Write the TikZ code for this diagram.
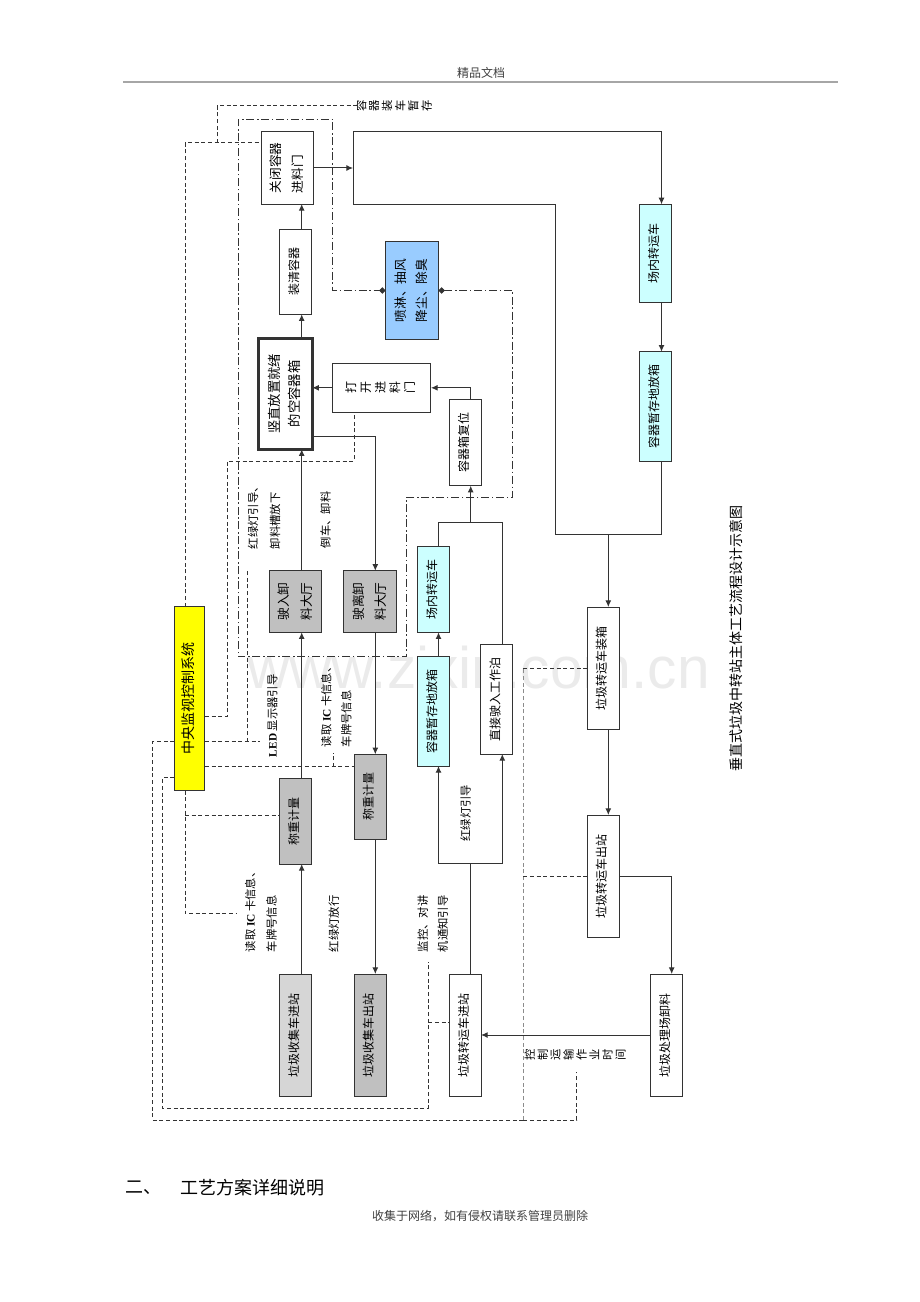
\documentclass[tikz,border=0pt]{standalone}
\usepackage{fontspec}
\setmainfont{Noto Sans CJK SC}
\newfontfamily\latinserif{Liberation Serif}
\newfontfamily\wmfont{Liberation Sans}
\usetikzlibrary{arrows.meta}
\definecolor{cyanbox}{HTML}{CCFFFF}
\definecolor{bluebox}{HTML}{99CCFF}
\definecolor{graybox}{HTML}{C0C0C0}
\definecolor{lgraybox}{HTML}{D6D6D6}
\definecolor{yellowbox}{HTML}{FFFF00}
\definecolor{linec}{HTML}{333333}
\newcommand{\rt}[4][l]{\rotatebox{90}{\fontsize{#2}{#3}\selectfont\begin{tabular}{@{}#1@{}}#4\end{tabular}}}
\newcommand{\latb}[1]{{\latinserif\bfseries #1}}
\tikzset{
  box/.style={draw=linec, line width=0.75pt, fill=white, inner sep=0pt, outer sep=0pt},
  cyanb/.style={box, fill=cyanbox},
  grayb/.style={box, fill=graybox},
  lab/.style={inner sep=0pt, outer sep=0pt},
  ln/.style={draw=linec, line width=0.75pt},
  arr/.style={ln, -{Latex[length=5pt,width=4.5pt]}},
  dsh/.style={draw=linec, line width=0.75pt, dash pattern=on 3pt off 2pt},
  ddot/.style={draw=linec, line width=0.75pt, dash pattern=on 6pt off 2pt on 1.2pt off 2pt},
  dtip/.style={{Diamond[length=5pt,width=5pt]}-{Diamond[length=5pt,width=5pt]}},
}
\begin{document}
\begin{tikzpicture}[x=0.75pt,y=-0.75pt]
\useasboundingbox (0,0) rectangle (920,1302);
% watermark
\node[lab, anchor=base west, text=black!8] (wm) at (247,688) {\wmfont\fontsize{44}{44}\selectfont www.zixin.com.cn};
% header / footer
\node[lab, text=black!75] (hdr) at (481,73) {\fontsize{9}{10}\selectfont 精品文档};
\coordinate (hl1) at (123,82); \coordinate (hl2) at (838,82);
\draw[black!35, line width=1pt] (hl1) -- (hl2);
\node[lab, anchor=west] (secnum) at (125,1188) {\fontsize{13.5}{14}\selectfont 二、};
\node[lab, anchor=west] (sectitle) at (180,1188) {\fontsize{13.5}{14}\selectfont 工艺方案详细说明};
\node[lab, text=black!75] (ftr) at (480,1216) {\fontsize{9}{10}\selectfont 收集于网络，如有侵权请联系管理员删除};
% boxes
\node[box, minimum width=39pt, minimum height=54pt] (closeDoor) at (287,168) {\rt{9.5}{17}{关闭容器\\进料门}};
\node[box, minimum width=24.3pt, minimum height=63.75pt] (cleanC) at (295.5,271.8) {\rt{9}{11}{装清容器}};
\node[box, line width=2pt, minimum width=40.5pt, minimum height=83.25pt] (ready) at (285.3,393.8) {\rt[c]{10}{15}{竖直放置就绪\\的空容器箱}};
\node[box, fill=bluebox, minimum width=39.45pt, minimum height=73.2pt] (spray) at (412,290.5) {\rt{9.5}{16}{喷淋、抽风\\降尘、除臭}};
\node[box, minimum width=73.7pt, minimum height=36.75pt] (openDoor) at (381.85,387.8) {\rt{9}{11}{打\\开\\进\\料\\门}};
\node[box, minimum width=23.8pt, minimum height=64.3pt] (reset) at (465.15,442.85) {\rt{9}{11}{容器箱复位}};
\node[grayb, minimum width=39.3pt, minimum height=46.2pt] (enterHall) at (295.5,601.5) {\rt{9.5}{17}{驶入卸\\料大厅}};
\node[grayb, minimum width=39.75pt, minimum height=46.2pt] (leaveHall) at (369.8,601.5) {\rt{9.5}{17}{驶离卸\\料大厅}};
\node[cyanb, minimum width=23.7pt, minimum height=64.2pt] (shuttle2) at (433.5,589.5) {\rt{9}{11}{场内转运车}};
\node[cyanb, minimum width=23.7pt, minimum height=82pt] (store2) at (433.5,711.35) {\rt{9}{11}{容器暂存地放箱}};
\node[box, minimum width=24pt, minimum height=82.3pt] (direct) at (496.7,699.15) {\rt{9}{11}{直接驶入工作泊}};
\node[box, fill=yellowbox, minimum width=23pt, minimum height=138pt] (ctrl) at (189.65,698.7) {\rt{10.5}{12}{中央监视控制系统}};
\node[grayb, minimum width=24.3pt, minimum height=64.3pt] (weigh1) at (295.5,821.15) {\rt{9}{11}{称重计量}};
\node[grayb, minimum width=24pt, minimum height=63.75pt] (weigh2) at (370,796.8) {\rt{9}{11}{称重计量}};
\node[box, fill=lgraybox, minimum width=24.3pt, minimum height=91.5pt] (colIn) at (295.5,1035) {\rt{9}{11}{垃圾收集车进站}};
\node[grayb, minimum width=24pt, minimum height=91.5pt] (colOut) at (370,1035) {\rt{9}{11}{垃圾收集车出站}};
\node[box, minimum width=23.8pt, minimum height=91.5pt] (trIn) at (465.15,1035) {\rt{9}{11}{垃圾转运车进站}};
\node[cyanb, minimum width=24pt, minimum height=73.5pt] (shuttle1) at (655.3,253.3) {\rt{9}{11}{场内转运车}};
\node[cyanb, minimum width=24.3pt, minimum height=82pt] (store1) at (655.5,406.35) {\rt{9}{11}{容器暂存地放箱}};
\node[box, minimum width=24pt, minimum height=91.7pt] (load) at (603,668.15) {\rt{9}{11}{垃圾转运车装箱}};
\node[box, minimum width=24pt, minimum height=91.7pt] (trOut) at (603,876.15) {\rt{9}{11}{垃圾转运车出站}};
\node[box, minimum width=23.5pt, minimum height=91.5pt] (dump) at (666.35,1035) {\rt{9}{11}{垃圾处理场卸料}};
% labels
\node[lab, anchor=south] (lblA) at (264,549) {\rt{8.5}{16.5}{红绿灯引导、\\卸料槽放下}};
\node[lab, anchor=south] (lblB) at (326.7,548) {\rt{8.5}{12}{倒车、卸料}};
\node[lab, anchor=south] (lblC) at (273.3,757) {\rt{8.5}{12}{\latb{LED} 显示器引导}};
\node[lab, anchor=south] (lblD) at (336.7,747) {\rt{8.5}{15}{读取 \latb{IC} 卡信息、\\车牌号信息}};
\node[lab, anchor=south] (lblE) at (261,952) {\rt{8.5}{16}{读取 \latb{IC} 卡信息、\\车牌号信息}};
\node[lab, anchor=south] (lblF) at (335,952) {\rt{8.5}{12}{红绿灯放行}};
\node[lab, anchor=south] (lblG) at (433,952) {\rt{8.5}{15}{监控、对讲\\机通知引导}};
\node[lab] (lblH) at (466.7,813) {\rt{8.5}{12}{红绿灯引导}};
\node[lab, anchor=west] (capStore) at (356,106) {\rt{8.5}{9}{容\\器\\装\\车\\暂\\存}};
\node[lab] (ctrlTime) at (576.5,1055) {\rt{8.5}{9}{控\\制\\运\\输\\作\\业\\时\\间}};
\node[lab] (title) at (738,638.5) {\rt{10.5}{12}{垂直式垃圾中转站主体工艺流程设计示意图}};
% spine coordinates
\coordinate (sA) at (301.7,0);
\coordinate (sB) at (375.3,0);
\coordinate (sC) at (438.5,0);
\coordinate (sD) at (470.7,0);
\coordinate (sE) at (502.3,0);
\coordinate (sF) at (608.3,0);
\coordinate (sG) at (661.5,0);
\coordinate (sH) at (671.7,0);
\coordinate (sI) at (555,0);
\coordinate (hR) at (0,436.7);
\coordinate (hJ) at (0,522.5);
\coordinate (hK) at (0,863.3);
\coordinate (hM) at (0,534);
\coordinate (bT) at (353,132);
\coordinate (bB) at (353,204);
% main flow
\draw[arr] (colIn.north -| sA) -- (weigh1.south -| sA);
\draw[arr] (weigh1.north -| sA) -- (enterHall.south -| sA);
\draw[arr] (enterHall.north -| sA) -- (ready.south -| sA);
\draw[arr] (ready.north -| sA) -- (cleanC.south -| sA);
\draw[arr] (cleanC.north -| sA) -- (closeDoor.south -| sA);
\draw[arr] (ready.east |- hR) -| (leaveHall.north -| sB);
\draw[arr] (leaveHall.south -| sB) -- (weigh2.north -| sB);
\draw[arr] (weigh2.south -| sB) -- (colOut.north -| sB);
\draw[arr] (openDoor.west) -- (openDoor.west -| ready.east);
\draw[arr] (reset.north -| sD) |- (openDoor.east);
\draw[ln] (shuttle2.north -| sC) |- (hJ -| sE) -- (direct.north -| sE);
\draw[arr] (hJ -| sD) -- (reset.south -| sD);
\draw[arr] (store2.north -| sC) -- (shuttle2.south -| sC);
\draw[ln] (trIn.north -| sD) -- (hK -| sD);
\draw[arr] (hK -| sD) -| (store2.south -| sC);
\draw[arr] (hK -| sD) -| (direct.south -| sE);
\draw[ln] (bT) -- (bB);
\draw[arr] (closeDoor.east) -- (closeDoor.east -| bT);
\draw[arr] (bT) -| (shuttle1.north -| sG);
\draw[ln] (bB) -| (hM -| sI) -- (hM -| sG) -- (store1.south -| sG);
\draw[arr] (shuttle1.south -| sG) -- (store1.north -| sG);
\draw[arr] (hM -| sF) -- (load.north -| sF);
\draw[arr] (load.south -| sF) -- (trOut.north -| sF);
\draw[arr] (trOut.east) -| (dump.north -| sH);
\draw[arr] (dump.west) -- (dump.west -| trIn.east);
% dashed control lines
\coordinate (dX) at (185,0);
\coordinate (y143) at (0,143);
\coordinate (j1) at (217,143);
\coordinate (y717) at (0,716.7);
\coordinate (c3a) at (227.3,461);
\coordinate (x354) at (354,0);
\coordinate (c4) at (260,741.7);
\coordinate (c4b) at (247.7,570);
\coordinate (y767) at (0,766.7);
\coordinate (c5) at (333.3,753);
\coordinate (c6) at (237.3,913.3);
\coordinate (y816) at (0,815.7);
\coordinate (y778) at (0,777.7);
\coordinate (c7) at (162.7,1108.3);
\coordinate (c7b) at (428.3,961.7);
\coordinate (y1023) at (0,1022.7);
\coordinate (y742) at (0,741.7);
\coordinate (c8) at (152.7,1120);
\coordinate (x523) at (523.3,0);
\coordinate (c8b) at (576.7,1071.7);
\draw[dsh] (ctrl.north -| dX) |- (closeDoor.west |- y143);
\draw[dsh] (j1) |- (capStore.west);
\draw[dsh] (ctrl.east |- y717) -| (c3a) -| (openDoor.south -| x354);
\draw[dsh] (ctrl.east |- c4) -- (c4);
\draw[dsh] (c4b |- c4) -- (c4b);
\draw[dsh] (ctrl.east |- y767) -- (weigh2.west |- y767);
\draw[dsh] (c5 |- y767) -- (c5);
\draw[dsh] (ctrl.south -| dX) |- (c6);
\draw[dsh] (dX |- y816) -- (weigh1.west |- y816);
\draw[dsh] (ctrl.west |- y778) -| (c7) -| (c7b);
\draw[dsh] (c7b |- y1023) -- (trIn.west |- y1023);
\draw[dsh] (ctrl.west |- y742) -| (c8) -- (x523 |- c8);
\draw[dsh, draw=black!45] (x523 |- c8) -- (x523 |- load.west);
\draw[dsh] (x523 |- load.west) -- (load.west);
\draw[dsh] (x523 |- trOut.west) -- (trOut.west);
\draw[dsh] (x523 |- c8) -| (c8b);
% dash-dot loop
\coordinate (x512) at (512.7,0);
\coordinate (y497) at (0,497);
\coordinate (x407) at (406.7,0);
\coordinate (y657) at (0,656.7);
\coordinate (x238) at (238.3,0);
\coordinate (y119) at (0,119.3);
\coordinate (x333) at (332.7,0);
\draw[ddot, dtip] (spray.east) -| (x512 |- y497) -| (x407 |- y657) -| (x238 |- y119) -| (x333 |- spray.west) -- (spray.west);
\end{tikzpicture}
\end{document}
